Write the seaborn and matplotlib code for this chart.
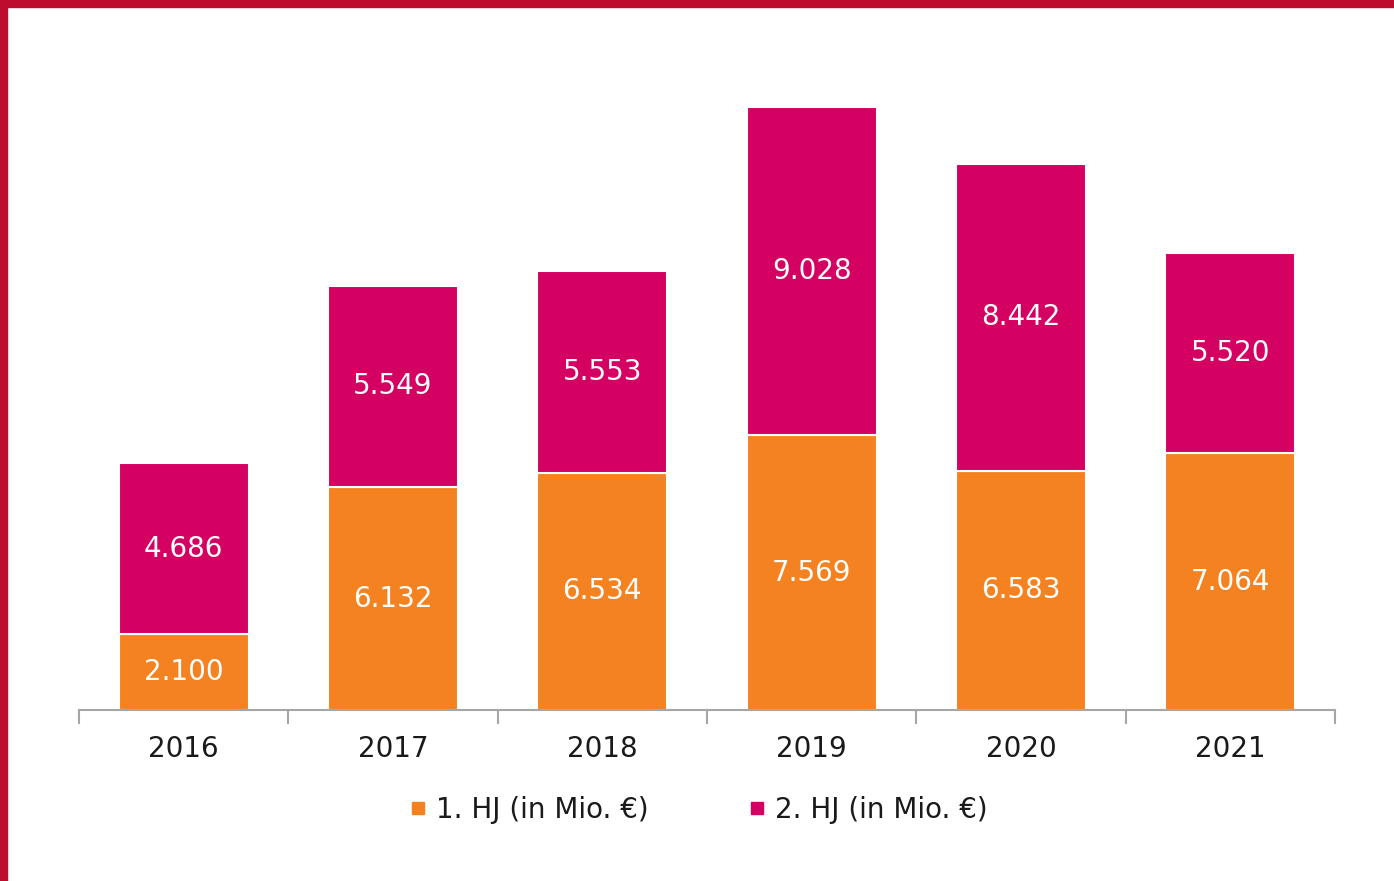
import matplotlib
matplotlib.use("Agg")
import matplotlib.pyplot as plt
from matplotlib.patches import Rectangle
from matplotlib.lines import Line2D
import seaborn as sns
import pandas as pd

# Werte je Halbjahr
jahre = ["2016", "2017", "2018", "2019", "2020", "2021"]
hj1 = [2100, 6132, 6534, 7569, 6583, 7064]
hj2 = [4686, 5549, 5553, 9028, 8442, 5520]
serien = ["1. HJ (in Mio. €)", "2. HJ (in Mio. €)"]

ORANGE = "#F58220"
MAGENTA = "#D40062"
ROT = "#BE0C2F"
FS = 20

sns.set_style("white")
plt.rcParams["font.family"] = ["DejaVu Sans"]

df = pd.DataFrame({"jahr": jahre, "hj1": hj1, "hj2": hj2})

fig = plt.figure(figsize=(13.94, 8.81), dpi=100)
ax = fig.add_axes([79 / 1394, 1 - 710 / 881, (1335 - 79) / 1394, 680 / 881])

sns.barplot(data=df, x="jahr", y="hj1", color=ORANGE, width=0.62,
            edgecolor="white", linewidth=1.5, saturation=1, ax=ax)
sns.barplot(data=df, x="jahr", y="hj2", bottom=df["hj1"], color=MAGENTA, width=0.62,
            edgecolor="white", linewidth=1.5, saturation=1, ax=ax)


def fmt(v):
    return f"{v:,.0f}".replace(",", ".")


for cont, vals in zip(ax.containers, [hj1, hj2]):
    ax.bar_label(cont, labels=[fmt(v) for v in vals], label_type="center",
                 color="white", fontsize=FS)

ax.set_xlim(-0.5, 5.5)
ax.set_ylim(0, 680 / 0.03633)
ax.set_xlabel("")
ax.set_ylabel("")
ax.set_yticks([])
for s in ["top", "right", "left"]:
    ax.spines[s].set_visible(False)
ax.spines["bottom"].set_color("#A6A6A6")
ax.spines["bottom"].set_linewidth(1.5)

ax.set_xticks(range(len(jahre)))
ax.set_xticklabels(jahre, fontsize=FS, color="#1A1A1A")
ax.set_xticks([i - 0.5 for i in range(len(jahre) + 1)], minor=True)
ax.tick_params(axis="x", which="major", length=0, pad=18)
ax.tick_params(axis="x", which="minor", length=10, width=1.5, color="#A6A6A6",
               direction="out", bottom=True)

handles = [Line2D([], [], marker="s", linestyle="", markersize=8, color=c)
           for c in [ORANGE, MAGENTA]]
fig.legend(handles, serien, loc="center", bbox_to_anchor=(0.5014, 1 - 810 / 881),
           ncol=2, frameon=False, fontsize=FS, handlelength=0.6,
           handletextpad=0.35, columnspacing=3.6, labelcolor="#1A1A1A")

# roter Rahmen oben und links
fig.add_artist(Rectangle((0, 1 - 7 / 881), 1, 7 / 881, transform=fig.transFigure,
                         color=ROT, zorder=10))
fig.add_artist(Rectangle((0, 0), 7 / 1394, 1, transform=fig.transFigure,
                         color=ROT, zorder=10))

fig.savefig("out.png", dpi=100)
